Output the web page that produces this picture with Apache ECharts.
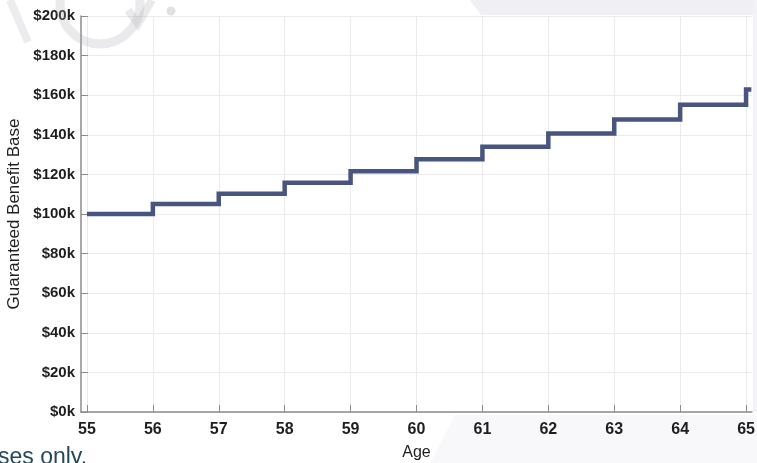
<!DOCTYPE html>
<html>
<head>
<meta charset="utf-8">
<script src="https://cdn.jsdelivr.net/npm/echarts@6/dist/echarts.min.js"></script>
<style>
  html, body { margin: 0; padding: 0; background: #ffffff; }
  #chart { width: 757px; height: 463px; }
</style>
</head>
<body>
<div id="chart"></div>
<script>
// Guaranteed benefit base by age (step-up each birthday)
const ages = [55, 56, 57, 58, 59, 60, 61, 62, 63, 64, 65, 65.08];
const benefitBase = [100000, 105000, 110250, 115760, 121550, 127630, 134010, 140710, 147750, 155130, 162890, 162890];
const ageTicks = [55, 56, 57, 58, 59, 60, 61, 62, 63, 64, 65];

const chart = echarts.init(document.getElementById('chart'), null, { renderer: 'canvas' });

const FONT = 'Liberation Sans, Arial, sans-serif';

chart.setOption({
  animation: false,
  backgroundColor: '#ffffff',
  grid: { left: 81, right: 5, top: 16, bottom: 51, containLabel: false, outerBoundsMode: 'none' },
  xAxis: {
    type: 'value',
    min: 54.91,
    max: 65.09,
    name: 'Age',
    nameLocation: 'middle',
    nameGap: 33,
    nameTextStyle: { fontFamily: FONT, fontSize: 16, color: '#1e1e1e' },
    axisLine: { show: true, onZero: false, lineStyle: { color: '#8c8c8c', width: 1.5 } },
    axisTick: { show: true, inside: true, length: 7, customValues: ageTicks, lineStyle: { color: '#8c8c8c' } },
    axisLabel: {
      customValues: ageTicks, margin: 10,
      formatter: v => String(Math.round(v)),
      fontFamily: FONT, fontSize: 16, fontWeight: 'bold', color: '#1e1e1e'
    },
    splitLine: { show: true, lineStyle: { color: '#ebebeb', width: 1 } }
  },
  yAxis: {
    type: 'value',
    min: 0,
    max: 200000,
    interval: 20000,
    name: 'Guaranteed Benefit Base',
    nameLocation: 'middle',
    nameGap: 51,
    nameTextStyle: { fontFamily: FONT, fontSize: 17, color: '#1e1e1e' },
    axisLine: { show: true, lineStyle: { color: '#8c8c8c', width: 1.5 } },
    axisTick: { show: true, inside: true, length: 7, lineStyle: { color: '#8c8c8c' } },
    axisLabel: {
      margin: 6,
      formatter: v => '$' + (v / 1000) + 'k',
      fontFamily: FONT, fontSize: 15, fontWeight: 'bold', color: '#1e1e1e'
    },
    splitLine: { show: true, lineStyle: { color: '#ebebeb', width: 1 } }
  },
  series: [{
    type: 'line',
    step: 'end',
    data: ages.map((a, i) => [a, benefitBase[i]]),
    showSymbol: false,
    clip: false,
    lineStyle: { color: '#48557f', width: 4.5, join: 'miter', cap: 'butt' },
    z: 5
  }],
  graphic: [
    // soft grey panel across the top right
    { type: 'polygon', z: -10, silent: true,
      shape: { points: [[470, 0], [757, 0], [757, 15], [481, 15]] },
      style: { fill: '#efeff4' } },
    // pale band along the right edge
    { type: 'rect', z: -10, silent: true,
      shape: { x: 753, y: 0, width: 4, height: 412 },
      style: { fill: '#f3f3f7' } },
    // pale wedge along the bottom right
    { type: 'polygon', z: -10, silent: true,
      shape: { points: [[430, 463], [757, 463], [757, 415], [455, 415]] },
      style: { fill: '#f8f8fa' } },
    // faint lettering in the top left corner
    { type: 'circle', z: 20, silent: true,
      shape: { cx: 100, cy: 4, r: 40 },
      style: { fill: 'none', stroke: 'rgba(170,170,180,0.25)', lineWidth: 9 } },
    { type: 'polyline', z: 20, silent: true,
      shape: { points: [[128, 10], [138, 24], [152, 0]] },
      style: { fill: 'none', stroke: 'rgba(170,170,180,0.25)', lineWidth: 8 } },
    { type: 'circle', z: 20, silent: true,
      shape: { cx: 171, cy: 11, r: 4.5 },
      style: { fill: 'rgba(170,170,180,0.35)' } },
    { type: 'polyline', z: 20, silent: true,
      shape: { points: [[10, 0], [28, 42]] },
      style: { fill: 'none', stroke: 'rgba(170,170,180,0.22)', lineWidth: 8 } },
    // footer text
    { type: 'text', z: 20, silent: true, left: -2, top: 446,
      style: { text: 'ses only.', fill: '#23495a', fontSize: 23, fontFamily: FONT } }
  ]
});
</script>
</body>
</html>
